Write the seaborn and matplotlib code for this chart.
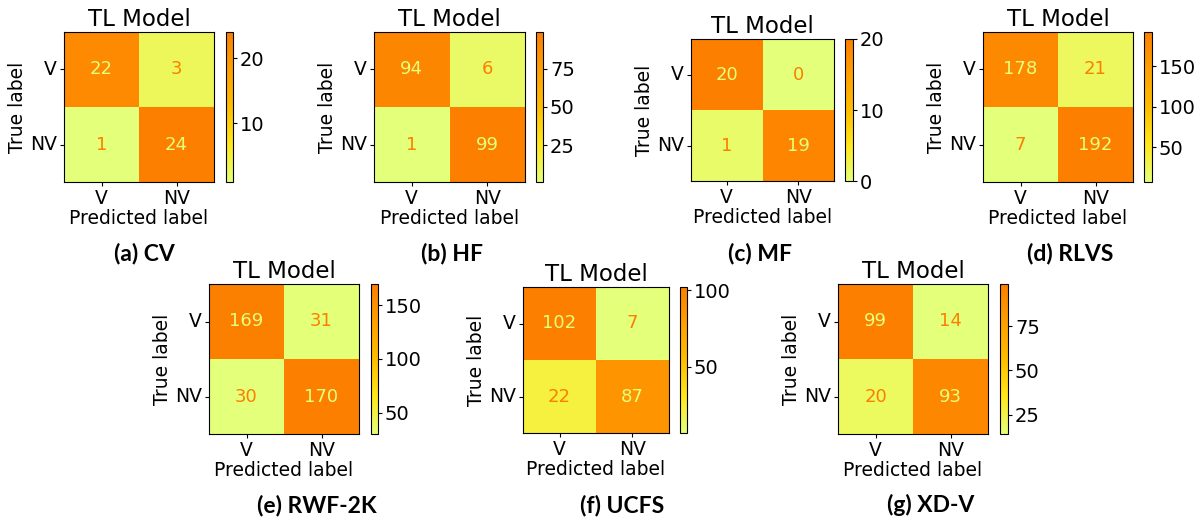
import numpy as np
import matplotlib
matplotlib.use("Agg")
import matplotlib.pyplot as plt
import seaborn as sns

# ---- data ----
classes = ["V", "NV"]
cm_cv = [[22, 3], [1, 24]]
cm_hf = [[94, 6], [1, 99]]
cm_mf = [[20, 0], [1, 19]]
cm_rlvs = [[178, 21], [7, 192]]
cm_rwf = [[169, 31], [30, 170]]
cm_ucfs = [[102, 7], [22, 87]]
cm_xdv = [[99, 14], [20, 93]]
captions = ["(a) CV", "(b) HF", "(c) MF", "(d) RLVS", "(e) RWF-2K", "(f) UCFS", "(g) XD-V"]
cbar_ticks = [[10, 20], [25, 50, 75], [0, 10, 20], [50, 100, 150],
              [50, 100, 150], [50, 100], [25, 50, 75]]
title = "TL Model"
xlabel = "Predicted label"
ylabel = "True label"

matrices = [cm_cv, cm_hf, cm_mf, cm_rlvs, cm_rwf, cm_ucfs, cm_xdv]

# layout in pixels: (x0, y0, x1, y1) heatmap, (cx0, cx1) colorbar, caption center (x, y)
W, H = 1201, 519
boxes = [
    (64, 32, 214, 182, 226, 233, 144, 253),
    (374, 32, 525, 182, 536, 543, 452, 253),
    (691, 39, 834, 181, 845, 853, 760, 253),
    (983, 32, 1133, 182, 1144, 1152, 1070, 253),
    (209, 284, 359, 434, 371, 378, 317, 505),
    (523, 287, 669, 433, 680, 687, 622, 505),
    (838, 284, 988, 434, 1000, 1008, 931, 505),
]

def fr(x0, y0, x1, y1):
    return [x0 / W, 1 - y1 / H, (x1 - x0) / W, (y1 - y0) / H]

plt.rcParams['font.family'] = ['DejaVu Sans']
fig = plt.figure(figsize=(12.01, 5.19), dpi=100)
cmap = plt.get_cmap("Wistia")

for cm, box, cap, ticks in zip(matrices, boxes, captions, cbar_ticks):
    x0, y0, x1, y1, cx0, cx1, capx, capy = box
    ax = fig.add_axes(fr(x0, y0, x1, y1))
    cax = fig.add_axes(fr(cx0, y0, cx1, y1))
    arr = np.array(cm)
    sns.heatmap(arr, ax=ax, cbar_ax=cax, cmap="Wistia", annot=True, fmt="d",
                annot_kws={"fontsize": 13}, xticklabels=classes, yticklabels=classes,
                vmin=arr.min(), vmax=arr.max(), square=False)
    thresh = (arr.max() + arr.min()) / 2.0
    for t, v in zip(ax.texts, arr.flatten()):
        t.set_color(cmap(0.0) if v > thresh else cmap(1.0))
    for s in ax.spines.values():
        s.set_visible(True)
        s.set_linewidth(0.8)
        s.set_color("black")
    ax.set_title(title, fontsize=16.5, pad=4)
    ax.set_xlabel(xlabel, fontsize=13.5, labelpad=1)
    ax.set_ylabel(ylabel, fontsize=13.5, labelpad=2)
    ax.tick_params(axis="both", labelsize=13.5, length=3, pad=2)
    ax.set_yticklabels(classes, rotation=0)
    ax.set_xticklabels(classes, rotation=0)
    cb = ax.collections[0].colorbar
    cb.outline.set_linewidth(0.8)
    cb.outline.set_edgecolor("black")
    cb.set_ticks(ticks)
    cax.tick_params(labelsize=14, length=3, pad=2)
    fig.text(capx / W, 1 - capy / H, cap, ha="center", va="center",
             fontsize=16.5, fontweight="bold", family=["Lato", "DejaVu Sans"])

fig.savefig("out.png", dpi=100)
